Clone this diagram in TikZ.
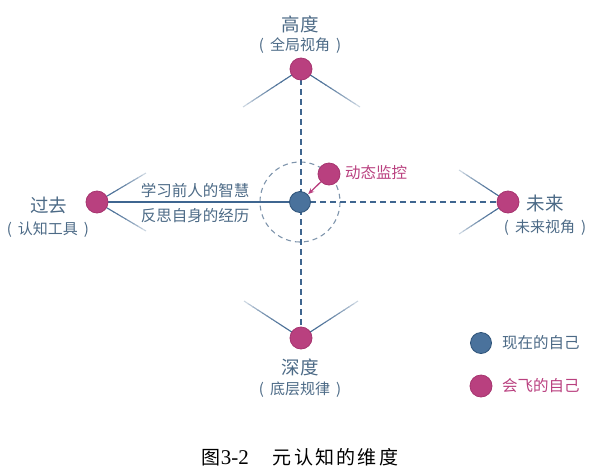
\documentclass[tikz,border=0pt]{standalone}
\usepackage{fontspec}
\setmainfont{Noto Sans CJK SC}
\newfontfamily\capfont[LetterSpace=12]{Noto Sans CJK SC}
\newfontfamily\capnum{Liberation Serif}
\usetikzlibrary{calc,backgrounds,arrows.meta}
\definecolor{dblue}{HTML}{3F6690}
\definecolor{nblue}{HTML}{4A729C}
\definecolor{bblue}{HTML}{2E5379}
\definecolor{npink}{HTML}{B9407F}
\definecolor{bpink}{HTML}{9E2F68}
\definecolor{tgrey}{HTML}{4C6A86}
\definecolor{cgrey}{HTML}{7F95AC}
\tikzset{
  me/.style={circle,fill=nblue,draw=bblue,line width=0.8pt,minimum size=21pt,inner sep=0pt},
  fly/.style={circle,fill=npink,draw=bpink!70!npink,line width=0.8pt,minimum size=22pt,inner sep=0pt},
  title/.style={text=tgrey,font=\fontsize{18.5}{18.5}\selectfont,inner sep=0pt},
  sub/.style={text=tgrey,font=\fontsize{15}{15}\selectfont,inner sep=0pt},
  lab/.style={text=tgrey,font=\fontsize{15.5}{15.5}\selectfont,inner sep=0pt},
  dashline/.style={dblue,line width=1.4pt,dash pattern=on 6pt off 4pt},
}
\newcommand{\fadeline}[2]{%
  \foreach \i in {0,...,11}{%
    \pgfmathsetmacro{\pa}{\i/12}%
    \pgfmathsetmacro{\pb}{(\i+1.15)/12}%
    \pgfmathtruncatemacro{\pc}{100-\i*\i*0.6}%
    \draw[line width=1.1pt,dblue!\pc!white] ($(#1)!\pa!(#2)$) -- ($(#1)!{min(\pb,1)}!(#2)$);
  }%
}
\newcommand{\paren}[1]{(\hspace{6pt}#1\hspace{6pt})}
\begin{document}
\begin{tikzpicture}[x=1pt,y=-1pt]
\useasboundingbox (0,0) rectangle (600,469);
% nodes
\node[me] (c) at (300,202) {};
\node[fly] (t) at (301,69) {};
\node[fly] (b) at (301,338) {};
\node[fly] (l) at (97,202) {};
\node[fly] (r) at (508,202) {};
\node[fly] (m) at (329,174) {};
% free ends
\coordinate (t1) at (243,107);
\coordinate (t2) at (360,107);
\coordinate (b1) at (244,301);
\coordinate (b2) at (358,301);
\coordinate (l1) at (146,173);
\coordinate (l2) at (146,231);
\coordinate (r1) at (459,170);
\coordinate (r2) at (459,234);
\begin{scope}[on background layer]
  \draw[cgrey,line width=1.1pt,dash pattern=on 5pt off 4pt] (c.center) circle (40);
  \draw[dashline] (t.center) -- (b.center);
  \draw[dashline] (c.center) -- (r.center);
  \draw[dblue,line width=1.4pt] (l.center) -- (c.center);
  \fadeline{t.center}{t1}
  \fadeline{t.center}{t2}
  \fadeline{b.center}{b1}
  \fadeline{b.center}{b2}
  \fadeline{l.center}{l1}
  \fadeline{l.center}{l2}
  \fadeline{r.center}{r1}
  \fadeline{r.center}{r2}
\end{scope}
\draw[npink,line width=1.3pt,-{Stealth[length=6pt,width=5pt]},shorten >=0.5pt] (m) -- (c);
% labels
\node[title] (tt) at (300,24) {高度};
\node[sub] (ts) at (300,46) {\paren{全局视角}};
\node[title] (bt) at (300,367) {深度};
\node[sub] (bs) at (300,390) {\paren{底层规律}};
\node[title] (lt) at (49,205) {过去};
\node[sub] (ls) at (48,230) {\paren{认知工具}};
\node[title] (rt) at (545,203) {未来};
\node[sub] (rs) at (545,228) {\paren{未来视角}};
\node[lab] (u1) at (195,191) {学习前人的智慧};
\node[lab] (u2) at (195,216) {反思自身的经历};
\node[lab,text=npink,anchor=west] (ml) at (345,173) {动态监控};
% legend
\node[me] (g1) at (481,343) {};
\node[fly] (g2) at (481,386) {};
\node[lab,anchor=west] (g1t) at (502,343) {现在的自己};
\node[lab,anchor=west,text=npink] (g2t) at (502,386) {会飞的自己};
% caption
\node[inner sep=0pt,text=black,font=\fontsize{19}{19}\selectfont] (cap) at (300,457) {图{\capnum\fontsize{21}{21}\selectfont 3-2}\hspace{24pt}\capfont 元认知的维度};
\end{tikzpicture}
\end{document}
